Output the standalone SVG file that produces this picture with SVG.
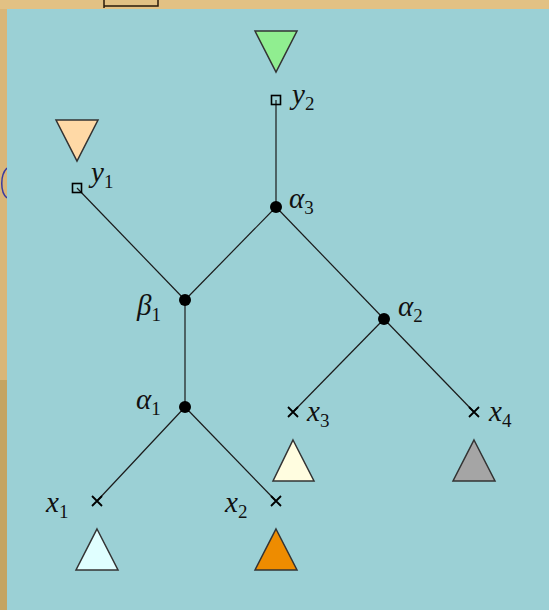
<svg xmlns="http://www.w3.org/2000/svg" width="549" height="610" viewBox="0 0 549 610">
<style>
.edge{stroke:#1a1a1a;stroke-width:1.2;fill:none}
.tri{stroke:#333;stroke-width:1.5}
.dot{fill:#000}
.sq{fill:none;stroke:#000;stroke-width:1.6}
.cross{stroke:#000;stroke-width:1.8}
</style>
<rect x="0" y="0" width="549" height="610" fill="#d9b679"/>
<path d="M0 0 H549 V9 H0 Z" fill="#e2c184"/>
<path d="M104 0 V8 M104 6 H158 V0" stroke="#2a1a0a" stroke-width="1.5" fill="none"/>
<path d="M7 168 C0 175 0 192 7 198" stroke="#3a3aa0" stroke-width="1.5" fill="none"/>
<rect x="0" y="380" width="7" height="230" fill="#c4a462"/>
<rect x="7" y="9" width="542" height="601" fill="#9bd0d5"/>
<g id="connectors">
<line class="edge" x1="77" y1="188" x2="185" y2="300"/>
<line class="edge" x1="185" y1="300" x2="276" y2="207"/>
<line class="edge" x1="276" y1="207" x2="276" y2="100"/>
<line class="edge" x1="276" y1="207" x2="384" y2="319"/>
<line class="edge" x1="185" y1="300" x2="185" y2="407"/>
<line class="edge" x1="185" y1="407" x2="97" y2="501"/>
<line class="edge" x1="185" y1="407" x2="276" y2="501"/>
<line class="edge" x1="384" y1="319" x2="293" y2="412"/>
<line class="edge" x1="384" y1="319" x2="474" y2="412"/>
</g>
<g id="y2">
<polygon class="tri" points="255,31 297,31 276,72" fill="#90ee90"/>
<rect class="sq" x="271.5" y="95.5" width="9" height="9" fill="#9bd0d5"/>
<text x="292" y="104" style="font-family:'Liberation Serif','DejaVu Serif',serif;font-style:italic;font-size:29px;fill:#111">y<tspan style="font-style:normal;font-size:19px" dy="6">2</tspan></text>
</g>
<g id="y1">
<polygon class="tri" points="56,120 98,120 77,161" fill="#ffd9a6"/>
<rect class="sq" x="72.5" y="183.5" width="9" height="9" fill="#9bd0d5"/>
<text x="91" y="182" style="font-family:'Liberation Serif','DejaVu Serif',serif;font-style:italic;font-size:29px;fill:#111">y<tspan style="font-style:normal;font-size:19px" dy="6">1</tspan></text>
</g>
<g id="alpha3">
<circle class="dot" cx="276" cy="207" r="6"/>
<text x="289" y="208" style="font-family:'Liberation Serif','DejaVu Serif',serif;font-style:italic;font-size:29px;fill:#111">α<tspan style="font-style:normal;font-size:19px" dy="6">3</tspan></text>
</g>
<g id="beta1">
<circle class="dot" cx="185" cy="300" r="6"/>
<text x="137" y="315" style="font-family:'Liberation Serif','DejaVu Serif',serif;font-style:italic;font-size:29px;fill:#111">β<tspan style="font-style:normal;font-size:19px" dy="6">1</tspan></text>
</g>
<g id="alpha2">
<circle class="dot" cx="384" cy="319" r="6"/>
<text x="398" y="316" style="font-family:'Liberation Serif','DejaVu Serif',serif;font-style:italic;font-size:29px;fill:#111">α<tspan style="font-style:normal;font-size:19px" dy="6">2</tspan></text>
</g>
<g id="alpha1">
<circle class="dot" cx="185" cy="407" r="6"/>
<text x="136" y="409" style="font-family:'Liberation Serif','DejaVu Serif',serif;font-style:italic;font-size:29px;fill:#111">α<tspan style="font-style:normal;font-size:19px" dy="6">1</tspan></text>
</g>
<g id="x3">
<path class="cross" d="M288 407 L298 417 M298 407 L288 417"/>
<text x="307" y="421" style="font-family:'Liberation Serif','DejaVu Serif',serif;font-style:italic;font-size:29px;fill:#111">x<tspan style="font-style:normal;font-size:19px" dy="6">3</tspan></text>
<polygon class="tri" points="293,440 314,481 273,481" fill="#fffde0"/>
</g>
<g id="x4">
<path class="cross" d="M469 407 L479 417 M479 407 L469 417"/>
<text x="489" y="421" style="font-family:'Liberation Serif','DejaVu Serif',serif;font-style:italic;font-size:29px;fill:#111">x<tspan style="font-style:normal;font-size:19px" dy="6">4</tspan></text>
<polygon class="tri" points="474,440 495,481 453,481" fill="#a5a5a5"/>
</g>
<g id="x1">
<path class="cross" d="M92 496 L102 506 M102 496 L92 506"/>
<text x="46" y="512" style="font-family:'Liberation Serif','DejaVu Serif',serif;font-style:italic;font-size:29px;fill:#111">x<tspan style="font-style:normal;font-size:19px" dy="6">1</tspan></text>
<polygon class="tri" points="97,529 118,570 76,570" fill="#e0ffff"/>
</g>
<g id="x2">
<path class="cross" d="M271 496 L281 506 M281 496 L271 506"/>
<text x="225" y="512" style="font-family:'Liberation Serif','DejaVu Serif',serif;font-style:italic;font-size:29px;fill:#111">x<tspan style="font-style:normal;font-size:19px" dy="6">2</tspan></text>
<polygon class="tri" points="276,529 297,570 255,570" fill="#ee8c00"/>
</g>
</svg>
